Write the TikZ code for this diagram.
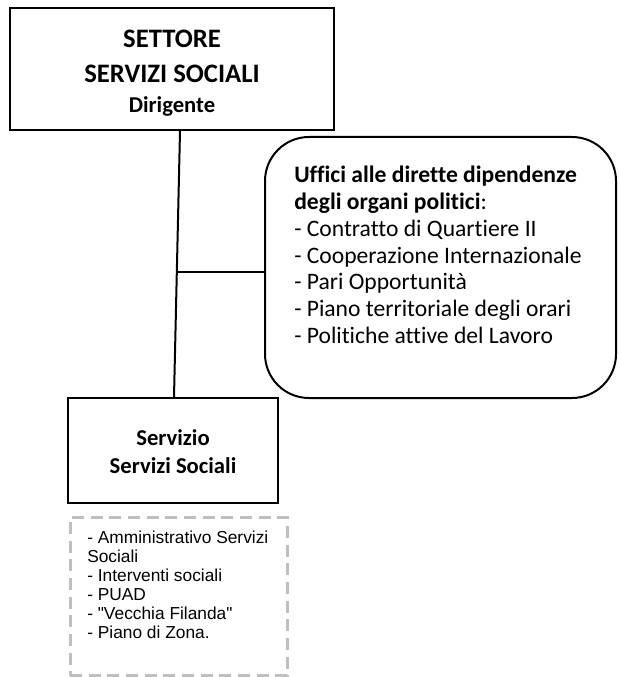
\documentclass[tikz,border=0pt]{standalone}
\usepackage{fontspec}
\setmainfont{Carlito}[Ligatures={NoCommon}]
\newfontfamily\arialf{Liberation Sans}
\usetikzlibrary{fit}
\definecolor{dashgray}{RGB}{191,191,191}
\begin{document}
\begin{tikzpicture}[x=0.75pt,y=-0.75pt,
 box/.style={draw=black,line width=1.5pt,inner sep=0pt},
 dbox/.style={draw=dashgray,line width=2.25pt,dash pattern=on 9pt off 5pt,inner sep=0pt},
 conn/.style={draw=black,line width=1.5pt},
 ttl/.style={font=\fontsize{20}{24}\selectfont\bfseries,anchor=base,inner sep=0pt},
 sub/.style={font=\fontsize{17}{20}\selectfont\bfseries,anchor=base,inner sep=0pt},
 itm/.style={font=\fontsize{17.7}{20}\selectfont,anchor=base west,inner sep=0pt},
 sm/.style={font=\arialf\fontsize{13}{15}\selectfont,anchor=base west,inner sep=0pt}]
\useasboundingbox (0,0) rectangle (618,677);
% boxes
\node[box,fit={(10,8) (334,130)}] (top) {};
\node[box,rounded corners=33pt,fit={(265,137) (616,398)}] (uff) {};
\node[box,fit={(68,398) (278,503)}] (serv) {};
\node[dbox,fit={(70,517) (287,675.5)}] (det) {};
% connectors
\draw[conn] ([xshift=6pt]top.south) -- ([xshift=0.75pt]serv.north);
\coordinate (j) at (177,272);
\draw[conn] (j) -- (j -| uff.west);
% top box text
\node[ttl] (t1) at (172,48) {SETTORE};
\node[ttl] (t2) at (172,83) {SERVIZI SOCIALI};
\node[sub] (t3) at (172,112.7) {Dirigente};
% uffici text
\node[itm] (u1) at (294,183) {\bfseries Uffici alle dirette dipendenze};
\node[itm] (u2) at (294,209.7) {\textbf{degli organi politici}:};
\node[itm] (u3) at (294,236.3) {- Contratto di Quartiere II};
\node[itm] (u4) at (294,263) {- Cooperazione Internazionale};
\node[itm] (u5) at (294,289.7) {- Pari Opportunità};
\node[itm] (u6) at (294,316.3) {- Piano territoriale degli orari};
\node[itm] (u7) at (294,343) {- Politiche attive del Lavoro};
% servizio text
\node[sub] (s1) at (173,445) {Servizio};
\node[sub] (s2) at (173,473) {Servizi Sociali};
% detail text
\node[sm] (d1) at (87,543) {- Amministrativo Servizi};
\node[sm] (d2) at (87,562) {Sociali};
\node[sm] (d3) at (87,581) {- Interventi sociali};
\node[sm] (d4) at (87,600) {- PUAD};
\node[sm] (d5) at (87,619) {- "Vecchia Filanda"};
\node[sm] (d6) at (87,638) {- Piano di Zona.};
\end{tikzpicture}
\end{document}
